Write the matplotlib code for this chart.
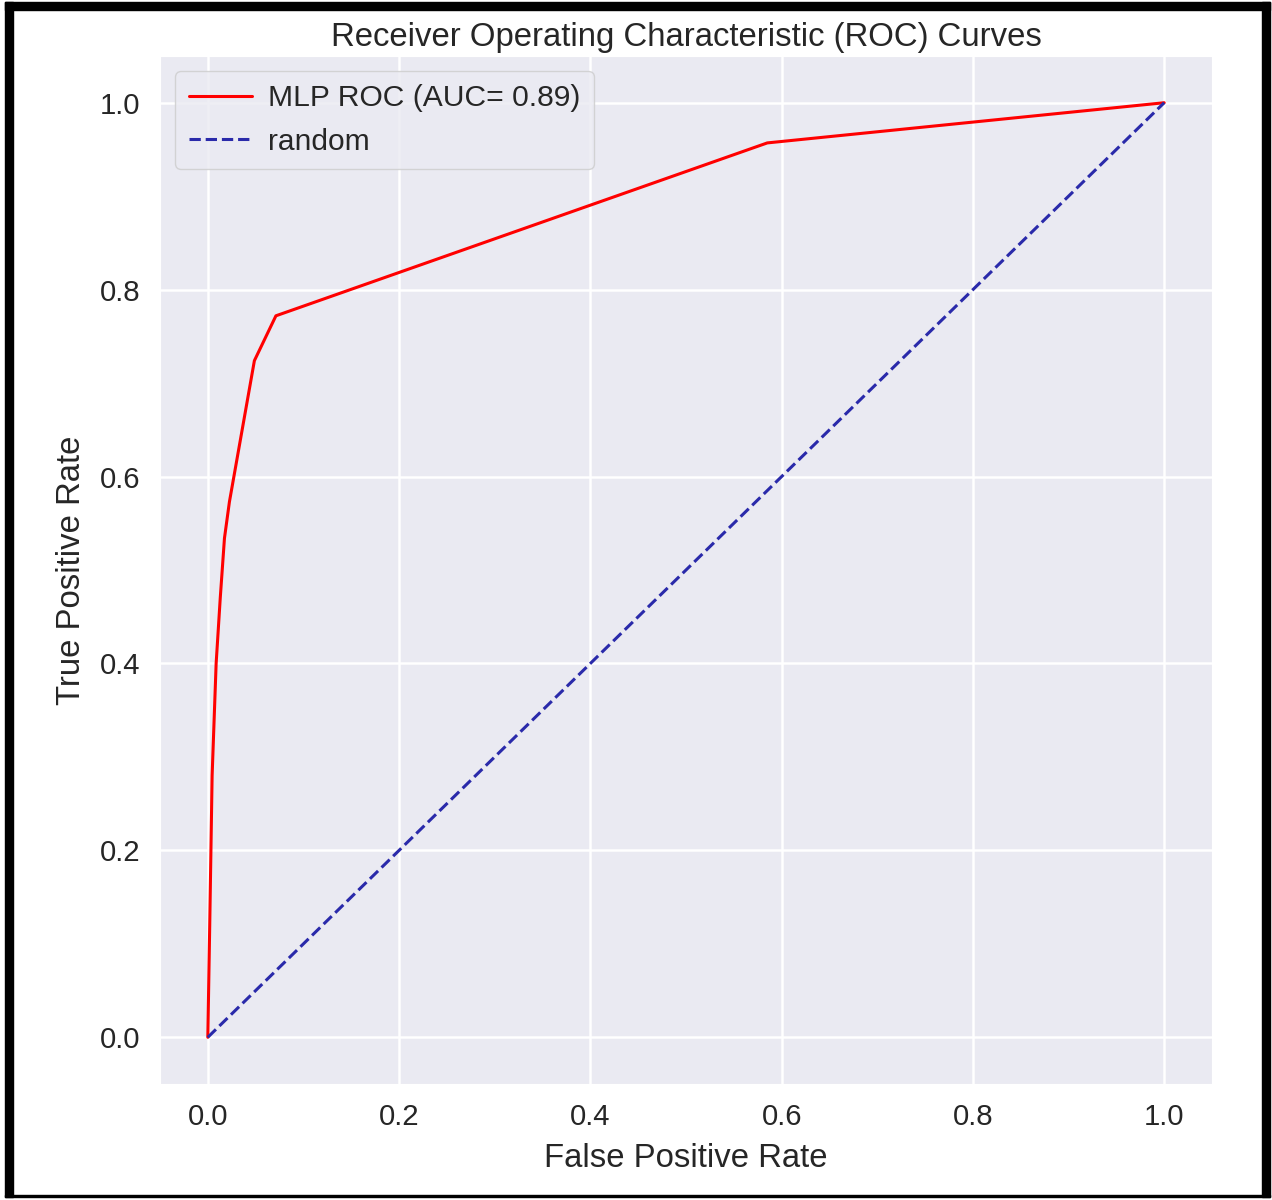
import matplotlib
matplotlib.use("Agg")
import matplotlib.pyplot as plt
import seaborn as sns
from matplotlib.patches import Rectangle

# ROC points
fpr = [0.0, 0.002, 0.0045, 0.0087, 0.013, 0.0174, 0.0226, 0.0487, 0.0712, 0.585, 1.0]
tpr = [0.0, 0.12, 0.28, 0.40, 0.47, 0.534, 0.573, 0.724, 0.772, 0.957, 1.0]
auc = 0.89
diag = [0.0, 1.0]

sns.set_style("darkgrid")
plt.rcParams["font.family"] = ["Liberation Sans", "DejaVu Sans"]

W, H = 1272, 1200
fig = plt.figure(figsize=(W / 100, H / 100), dpi=100)
ax = fig.add_axes([160 / W, 1 - 1084 / H, (1212 - 160) / W, (1084 - 56) / H])

ax.plot(fpr, tpr, color="red", lw=2.2, label="MLP ROC (AUC= %0.2f)" % auc)
ax.plot(diag, diag, color="#2a2aaa", lw=2.2, linestyle="--", label="random")

ax.set_title("Receiver Operating Characteristic (ROC) Curves", fontsize=23.7, color=".15", pad=7)
ax.set_xlabel("False Positive Rate", fontsize=23.7, color=".15", labelpad=8)
ax.set_ylabel("True Positive Rate", fontsize=23.7, color=".15", labelpad=9)
ax.tick_params(labelsize=21.2, colors=".15", length=0, pad=14)
ax.set_xticks([0.0, 0.2, 0.4, 0.6, 0.8, 1.0])
ax.set_yticks([0.0, 0.2, 0.4, 0.6, 0.8, 1.0])
ax.grid(color="white", lw=1.8)

ax.legend(loc="upper left", fontsize=21.6, handlelength=2.1, borderpad=0.45,
          labelspacing=0.5, handletextpad=0.55, borderaxespad=0.5)

# black frame around the picture
def bar(x0, y0, x1, y1):
    fig.add_artist(Rectangle((x0 / W, 1 - y1 / H), (x1 - x0) / W, (y1 - y0) / H,
                             transform=fig.transFigure, color="black", zorder=10))

bar(5, 2, 1270, 10)
bar(5, 2, 13, 1197)
bar(1262, 2, 1270, 1197)
bar(5, 1195, 1270, 1197)

fig.savefig("out.png", dpi=100)
